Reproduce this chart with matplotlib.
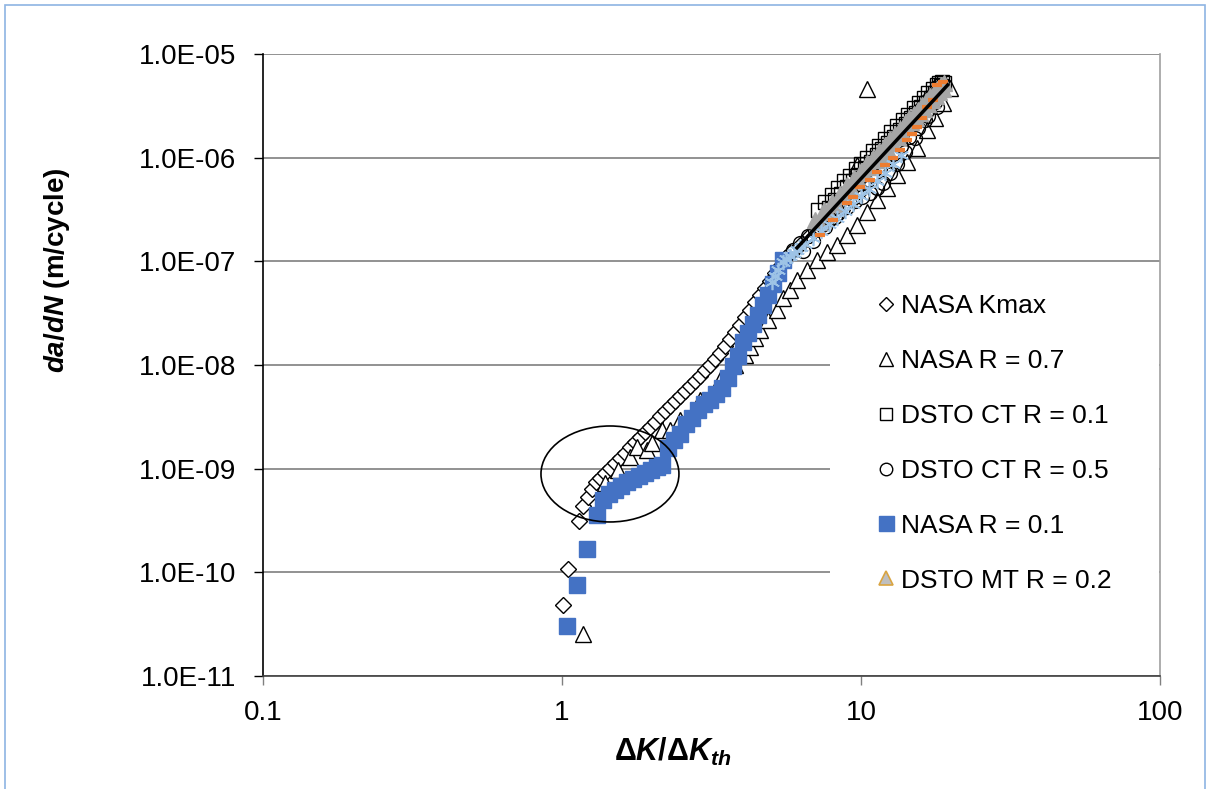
import numpy as np
import matplotlib
matplotlib.use("Agg")
import matplotlib.pyplot as plt
from matplotlib.patches import Ellipse, Rectangle

plt.rcParams['font.family'] = ['Liberation Sans', 'DejaVu Sans']
plt.rcParams['mathtext.fontset'] = 'custom'
plt.rcParams['mathtext.rm'] = 'Liberation Sans:bold'
plt.rcParams['mathtext.it'] = 'Liberation Sans:bold:italic'
plt.rcParams['mathtext.bf'] = 'Liberation Sans:bold'

# ---- data ----
# NASA Kmax (open diamonds)
kmax_x = [1.008, 1.047, 1.140, 1.176, 1.222, 1.260, 1.299, 1.340, 1.393, 1.447, 1.504,
          1.563, 1.624, 1.688, 1.754, 1.823, 1.895, 1.969, 2.046, 2.126, 2.210, 2.297,
          2.387, 2.481, 2.578, 2.680, 2.785, 2.894, 3.008, 3.126, 3.249, 3.376, 3.509,
          3.647, 3.789, 3.938, 4.093, 4.254, 4.421, 4.595, 4.775, 4.963, 5.158, 5.360,
          5.571, 5.788, 6.25, 6.75, 7.29, 7.88, 8.51, 9.19, 9.92, 10.72, 11.57, 12.50,
          13.50, 14.58, 15.75, 17.01]
kmax_y = [4.86e-11, 1.08e-10, 3.14e-10, 4.38e-10, 5.35e-10, 6.38e-10, 7.46e-10, 8.15e-10,
          9.12e-10, 1.02e-9, 1.14e-9, 1.27e-9, 1.42e-9, 1.62e-9, 1.81e-9, 2.03e-9, 2.26e-9,
          2.53e-9, 2.83e-9, 3.23e-9, 3.61e-9, 4.04e-9, 4.51e-9, 5.04e-9, 5.63e-9, 6.29e-9,
          7.03e-9, 7.85e-9, 8.97e-9, 1.00e-8, 1.15e-8, 1.31e-8, 1.53e-8, 1.79e-8, 2.09e-8,
          2.44e-8, 2.91e-8, 3.40e-8, 4.06e-8, 4.74e-8, 5.54e-8, 6.48e-8, 7.73e-8, 9.03e-8,
          1.08e-7, 1.20e-7, 1.44e-7, 1.80e-7, 2.30e-7, 2.93e-7, 3.74e-7, 4.77e-7, 6.24e-7,
          7.96e-7, 1.04e-6, 1.36e-6, 1.77e-6, 2.31e-6, 3.01e-6, 3.94e-6]

# NASA R = 0.7 (open triangles)
r07_x = [1.176, 1.393, 1.539, 1.688, 1.782, 1.924, 2.000, 2.160, 2.297, 2.481, 2.894,
         3.376, 3.789, 4.093, 4.254, 4.421, 4.595, 4.887, 5.238, 5.484, 5.788, 6.109,
         6.597, 7.126, 7.694, 8.313, 8.980, 9.697, 10.47, 11.31, 12.22, 13.20, 14.25,
         15.39, 16.63, 17.68, 18.80, 19.85, 9.70, 10.47]
r07_y = [2.55e-11, 7.30e-10, 9.73e-10, 1.30e-9, 1.62e-9, 1.52e-9, 1.77e-9, 2.37e-9,
         2.37e-9, 2.96e-9, 4.61e-9, 7.18e-9, 1.00e-8, 1.25e-8, 1.50e-8, 1.83e-8, 2.18e-8,
         2.72e-8, 3.40e-8, 4.44e-8, 5.30e-8, 6.62e-8, 8.26e-8, 1.03e-7, 1.23e-7, 1.44e-7,
         1.80e-7, 2.24e-7, 2.99e-7, 3.91e-7, 5.10e-7, 6.81e-7, 9.09e-7, 1.24e-6, 1.85e-6,
         2.41e-6, 3.37e-6, 4.70e-6, 8.5e-7, 4.6e-6]

# DSTO CT R = 0.1 (open squares)
ct01_x = [7.2, 7.6, 8.0, 8.4, 8.8, 9.2, 9.6, 10.0, 10.5, 11.0, 11.5, 12.0, 12.6, 13.2,
          13.8, 14.4, 15.0, 15.6, 16.2, 16.8, 17.4, 17.9, 18.3, 18.6, 18.2,
          7.8, 8.2, 8.6, 9.0, 9.4, 9.8, 10.3, 10.8, 11.3, 11.8, 12.3, 12.9, 13.5, 14.1,
          14.7, 15.3, 15.9, 16.5, 17.1, 17.7, 18.5, 18.9]
ct01_y = [3.15e-7, 3.7e-7, 4.4e-7, 5.1e-7, 5.9e-7, 6.7e-7, 7.7e-7, 8.7e-7, 1.0e-6,
          1.15e-6, 1.3e-6, 1.5e-6, 1.75e-6, 2.0e-6, 2.3e-6, 2.6e-6, 3.0e-6, 3.4e-6,
          3.8e-6, 4.2e-6, 4.6e-6, 5.0e-6, 5.3e-6, 5.4e-6, 4.7e-6,
          3.3e-7, 3.9e-7, 4.5e-7, 5.2e-7, 5.9e-7, 6.75e-7, 7.9e-7, 9.1e-7, 1.05e-6,
          1.2e-6, 1.37e-6, 1.59e-6, 1.83e-6, 2.1e-6, 2.4e-6, 2.7e-6, 3.05e-6, 3.4e-6,
          3.8e-6, 4.25e-6, 4.9e-6, 5.2e-6]

# DSTO CT R = 0.5 (open circles)
ct05_x = [5.93, 6.25, 6.65, 7.02, 7.41, 7.88, 8.38, 8.98, 9.55, 10.08, 10.72, 11.31,
          11.85, 12.50, 13.20, 14.03, 15.16, 16.37, 17.68,
          6.4, 6.9, 7.6, 8.2, 8.7, 9.3, 9.9, 10.4, 11.0, 11.6, 12.2, 12.8, 13.6, 14.5,
          15.5, 16.8, 18.0]
ct05_y = [1.29e-7, 1.50e-7, 1.76e-7, 2.01e-7, 2.24e-7, 2.56e-7, 2.93e-7, 3.35e-7,
          3.82e-7, 4.18e-7, 4.57e-7, 5.10e-7, 5.70e-7, 7.12e-7, 8.69e-7, 1.13e-6,
          1.55e-6, 2.31e-6, 3.44e-6,
          1.25e-7, 1.58e-7, 2.13e-7, 2.7e-7, 3.24e-7, 3.99e-7, 4.85e-7, 5.65e-7, 6.7e-7,
          7.9e-7, 9.3e-7, 1.08e-6, 1.3e-6, 1.6e-6, 1.95e-6, 2.5e-6, 3.1e-6]

# NASA R = 0.1 (filled blue squares)
r01_x = [1.039, 1.122, 1.212, 1.309, 1.371, 1.436, 1.504, 1.575, 1.650, 1.728, 1.809,
         1.895, 1.985, 2.078, 2.160, 2.262, 2.370, 2.481, 2.598, 2.721, 2.850, 2.985,
         3.126, 3.274, 3.428, 3.591, 3.732, 3.878, 4.030, 4.189, 4.353, 4.524, 4.701,
         4.887, 5.079, 5.277, 5.484]
r01_y = [3.05e-11, 7.58e-11, 1.69e-10, 3.58e-10, 5.0e-10, 5.71e-10, 6.25e-10, 6.83e-10,
         7.46e-10, 7.98e-10, 8.53e-10, 9.12e-10, 9.73e-10, 1.04e-9, 1.09e-9, 1.59e-9,
         1.90e-9, 2.17e-9, 2.71e-9, 3.09e-9, 3.69e-9, 4.22e-9, 4.61e-9, 5.26e-9, 6.01e-9,
         7.51e-9, 9.80e-9, 1.22e-8, 1.67e-8, 2.04e-8, 2.49e-8, 3.04e-8, 3.80e-8, 4.74e-8,
         6.05e-8, 7.73e-8, 1.03e-7]

# DSTO MT R = 0.2 (grey triangles)
mt02_x = [7.0, 7.5, 8.0, 8.5, 9.0, 9.5, 10.0, 10.5, 11.0, 11.5, 12.0, 12.5, 13.0, 13.5,
          14.0, 14.5, 15.0, 15.5, 16.0, 16.5, 17.0, 17.5, 18.0, 18.5, 19.0,
          7.25, 7.75, 8.25, 8.75, 9.25, 9.75, 10.25, 10.75, 11.25, 11.75, 12.25, 12.75,
          13.25, 13.75, 14.25, 14.75, 15.25, 15.75, 16.25, 16.75, 17.25, 17.75, 18.25,
          18.75]
mt02_y = [2.5e-7, 3.1e-7, 3.7e-7, 4.5e-7, 5.4e-7, 6.4e-7, 7.5e-7, 8.8e-7, 1.0e-6,
          1.16e-6, 1.32e-6, 1.5e-6, 1.7e-6, 1.9e-6, 2.15e-6, 2.4e-6, 2.64e-6, 2.9e-6,
          3.25e-6, 3.55e-6, 3.9e-6, 4.25e-6, 4.6e-6, 5.0e-6, 5.2e-6,
          2.4e-7, 2.97e-7, 3.6e-7, 4.3e-7, 5.15e-7, 6.1e-7, 7.1e-7, 8.2e-7, 9.5e-7,
          1.08e-6, 1.23e-6, 1.4e-6, 1.57e-6, 1.77e-6, 1.97e-6, 2.2e-6, 2.44e-6, 2.7e-6,
          2.97e-6, 3.26e-6, 3.58e-6, 3.9e-6, 4.26e-6, 4.6e-6]

# unlabelled series inside the upper cluster
orange_x = [7.29, 8.05, 8.98, 9.4, 9.92, 10.72, 11.3, 12.03, 12.8, 13.5, 14.25, 14.8,
            15.39, 16.0, 16.63, 17.4, 17.96, 18.8]
orange_y = [1.80e-7, 2.5e-7, 3.66e-7, 4.2e-7, 5.2e-7, 6.1e-7, 7.2e-7, 8.5e-7, 1.0e-6,
            1.19e-6, 1.48e-6, 1.7e-6, 1.98e-6, 2.4e-6, 3.08e-6, 3.6e-6, 5.03e-6, 5.4e-6]
ltblue_x = [5.04, 5.15, 5.28, 5.48, 5.6, 5.79, 5.95, 6.11, 6.3, 6.50, 6.91, 7.35, 7.82,
            8.31, 8.84, 9.40, 10.0, 10.64, 11.31, 12.03, 12.80, 13.61]
ltblue_y = [6.33e-8, 7.2e-8, 8.26e-8, 9.87e-8, 1.05e-7, 1.13e-7, 1.2e-7, 1.29e-7, 1.38e-7,
            1.47e-7, 1.68e-7, 1.96e-7, 2.30e-7, 2.62e-7, 3.06e-7, 3.58e-7, 4.28e-7,
            4.99e-7, 5.96e-7, 7.12e-7, 8.69e-7, 1.06e-6]

# fitted power law (end points)
fit_x = [6.11, 19.5]
fit_y = [1.35e-7, 5.03e-6]

x_ticks = [0.1, 1, 10, 100]
x_labels = ['0.1', '1', '10', '100']
y_ticks = [1e-11, 1e-10, 1e-9, 1e-8, 1e-7, 1e-6, 1e-5]
y_labels = ['1.0E-11', '1.0E-10', '1.0E-09', '1.0E-08', '1.0E-07', '1.0E-06', '1.0E-05']

W, H = 1208, 789
fig = plt.figure(figsize=(W / 100, H / 100), dpi=100)
ax = fig.add_axes([263 / W, 1 - 676 / H, 897 / W, 622 / H])
ax.set_xscale('log')
ax.set_yscale('log')
ax.set_xlim(0.1, 100)
ax.set_ylim(1e-11, 1e-5)

ax.plot(kmax_x, kmax_y, ls='none', marker='D', ms=8, mfc='white', mec='black', mew=1,
        label='NASA Kmax', zorder=3)
ax.plot(r07_x, r07_y, ls='none', marker='^', ms=11, mfc='white', mec='black', mew=1,
        label='NASA R = 0.7', zorder=3)
ax.plot(ct01_x, ct01_y, ls='none', marker='s', ms=10, mfc='none', mec='black', mew=1,
        label='DSTO CT R = 0.1', zorder=3)
ax.plot(ct05_x, ct05_y, ls='none', marker='o', ms=10, mfc='none', mec='black', mew=1,
        label='DSTO CT R = 0.5', zorder=3)
ax.plot(r01_x, r01_y, ls='none', marker='s', ms=12, mfc='#4472C4', mec='#4472C4', mew=1,
        label='NASA R = 0.1', zorder=3)
ax.plot(mt02_x, mt02_y, ls='none', marker='^', ms=12, mfc='#A6A6A6', mec='#A6A6A6', mew=1,
        zorder=3)
ax.plot(ltblue_x, ltblue_y, ls='none', marker=(6, 2, 0), ms=11, mec='#9DC3E6', mew=1.2,
        zorder=3)
ax.plot(orange_x, orange_y, ls='none', marker='_', ms=7, mec='#ED7D31', mew=3, zorder=3)
ax.plot(fit_x, fit_y, color='black', lw=2.5, zorder=4)

# legend handle for the grey triangles (orange outline as in the key)
mt_handle, = ax.plot([], [], ls='none', marker='^', ms=11, mfc='#BFBFBF', mec='#D9A441',
                     mew=1.2, label='DSTO MT R = 0.2')

ax.add_patch(Ellipse((0.3868, 0.3248), 0.1538, 0.1543, transform=ax.transAxes,
                     fill=False, ec='black', lw=1.2, zorder=5))

# white background of the key hides the gridlines behind it
ax.add_patch(Rectangle((830 / W, 1 - 606 / H), 329 / W, 326 / H,
                       transform=fig.transFigure, fc='white', ec='none', zorder=1))

ax.set_xticks(x_ticks)
ax.set_xticklabels(x_labels)
ax.set_yticks(y_ticks)
ax.set_yticklabels(y_labels)
ax.minorticks_off()
ax.tick_params(axis='y', direction='out', length=6.5, width=1, color='black', pad=13,
               labelsize=20)
ax.tick_params(axis='x', direction='out', length=6.5, width=1, color='#808080', pad=11,
               labelsize=20)
ax.grid(axis='y', color='#7F7F7F', lw=1.2)
ax.grid(axis='x', visible=False)
ax.set_axisbelow(True)
ax.spines['top'].set_visible(False)
ax.spines['right'].set_color('#A0A0A0')
ax.spines['left'].set_color('black')
ax.spines['bottom'].set_color('#404040')
for s in ax.spines.values():
    s.set_linewidth(1.2)

h, l = ax.get_legend_handles_labels()
ax.legend(h, l, loc='upper left', bbox_to_anchor=(864 / W, 1 - 281 / H),
          bbox_transform=fig.transFigure, frameon=False, fontsize=19, borderpad=0,
          handlelength=0.7, handletextpad=0.2, labelspacing=1.17, markerscale=0.9)

fig.text(57 / W, 1 - 270 / H, r'$da/dN$ (m/cycle)', rotation=90, ha='center',
         va='center', fontsize=20, fontweight='bold')
fig.text(673 / W, 1 - 752 / H, r'$\Delta K/\Delta K_{th}$', ha='center', va='center',
         fontsize=22)

fig.patches.append(Rectangle((5 / W, -0.02), 1200 / W, 1 - 5 / H + 0.02,
                             transform=fig.transFigure, fill=False, ec='#8EB4E3', lw=1.2))

fig.savefig('out.png', dpi=100)
